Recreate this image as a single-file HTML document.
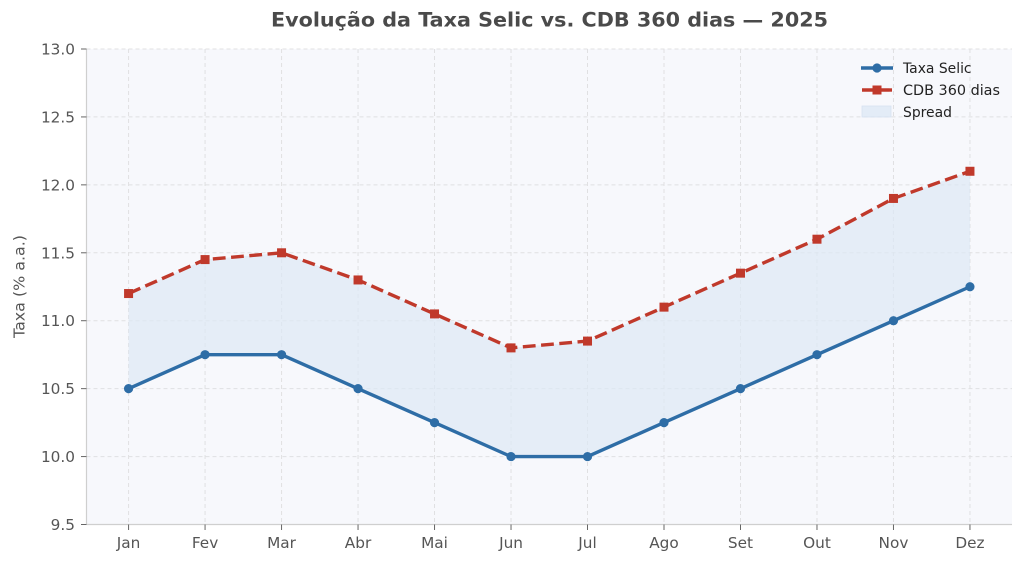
<!DOCTYPE html>
<html><head><meta charset="utf-8"><style>
html,body{margin:0;padding:0;background:#fff;}
svg{display:block;font-family:"DejaVu Sans","Liberation Sans",sans-serif;}
</style></head><body>
<svg width="1024" height="563" viewBox="0 0 1024 563" xmlns="http://www.w3.org/2000/svg">
<rect width="1024" height="563" fill="#fff"/>
<text x="549.5" y="26.5" text-anchor="middle" font-size="19.4" font-weight="bold" fill="#4a4a4a" textLength="557" lengthAdjust="spacingAndGlyphs">Evolução da Taxa Selic vs. CDB 360 dias — 2025</text>
<rect x="86.5" y="49" width="925.5" height="475.5" fill="#f7f8fc"/>
<g stroke="#e0e0e2" stroke-width="1" stroke-dasharray="4,3" fill="none">
<line x1="86.5" x2="1012" y1="49" y2="49"/>
<line x1="86.5" x2="1012" y1="116.93" y2="116.93"/>
<line x1="86.5" x2="1012" y1="184.86" y2="184.86"/>
<line x1="86.5" x2="1012" y1="252.79" y2="252.79"/>
<line x1="86.5" x2="1012" y1="320.71" y2="320.71"/>
<line x1="86.5" x2="1012" y1="388.64" y2="388.64"/>
<line x1="86.5" x2="1012" y1="456.57" y2="456.57"/>
<line y1="49" y2="524.5" x1="128.57" x2="128.57"/>
<line y1="49" y2="524.5" x1="205.06" x2="205.06"/>
<line y1="49" y2="524.5" x1="281.55" x2="281.55"/>
<line y1="49" y2="524.5" x1="358.04" x2="358.04"/>
<line y1="49" y2="524.5" x1="434.53" x2="434.53"/>
<line y1="49" y2="524.5" x1="511.02" x2="511.02"/>
<line y1="49" y2="524.5" x1="587.51" x2="587.51"/>
<line y1="49" y2="524.5" x1="664.0" x2="664.0"/>
<line y1="49" y2="524.5" x1="740.49" x2="740.49"/>
<line y1="49" y2="524.5" x1="816.98" x2="816.98"/>
<line y1="49" y2="524.5" x1="893.47" x2="893.47"/>
<line y1="49" y2="524.5" x1="969.96" x2="969.96"/>
</g>
<polygon fill="#dde8f5" fill-opacity="0.7" points="128.57,293.54 205.06,259.58 281.55,252.79 358.04,279.96 434.53,313.92 511.02,347.89 587.51,341.09 664.0,307.13 740.49,273.16 816.98,239.2 893.47,198.44 969.96,171.27 969.96,286.75 893.47,320.71 816.98,354.68 740.49,388.64 664.0,422.61 587.51,456.57 511.02,456.57 434.53,422.61 358.04,388.64 281.55,354.68 205.06,354.68 128.57,388.64"/>
<line x1="86.5" x2="86.5" y1="49" y2="524.5" stroke="#cfcfcf" stroke-width="1.2"/>
<line x1="86.5" x2="1012" y1="524.5" y2="524.5" stroke="#cfcfcf" stroke-width="1.2"/>
<g stroke="#666" stroke-width="1">
<line x1="81" x2="86.5" y1="49" y2="49"/>
<line x1="81" x2="86.5" y1="116.93" y2="116.93"/>
<line x1="81" x2="86.5" y1="184.86" y2="184.86"/>
<line x1="81" x2="86.5" y1="252.79" y2="252.79"/>
<line x1="81" x2="86.5" y1="320.71" y2="320.71"/>
<line x1="81" x2="86.5" y1="388.64" y2="388.64"/>
<line x1="81" x2="86.5" y1="456.57" y2="456.57"/>
<line x1="81" x2="86.5" y1="524.5" y2="524.5"/>
<line y1="524.5" y2="530" x1="128.57" x2="128.57"/>
<line y1="524.5" y2="530" x1="205.06" x2="205.06"/>
<line y1="524.5" y2="530" x1="281.55" x2="281.55"/>
<line y1="524.5" y2="530" x1="358.04" x2="358.04"/>
<line y1="524.5" y2="530" x1="434.53" x2="434.53"/>
<line y1="524.5" y2="530" x1="511.02" x2="511.02"/>
<line y1="524.5" y2="530" x1="587.51" x2="587.51"/>
<line y1="524.5" y2="530" x1="664.0" x2="664.0"/>
<line y1="524.5" y2="530" x1="740.49" x2="740.49"/>
<line y1="524.5" y2="530" x1="816.98" x2="816.98"/>
<line y1="524.5" y2="530" x1="893.47" x2="893.47"/>
<line y1="524.5" y2="530" x1="969.96" x2="969.96"/>
</g>
<g font-size="15.3" fill="#555" text-anchor="end">
<text x="75" y="54.5">13.0</text>
<text x="75" y="122.4">12.5</text>
<text x="75" y="190.4">12.0</text>
<text x="75" y="258.3">11.5</text>
<text x="75" y="326.2">11.0</text>
<text x="75" y="394.1">10.5</text>
<text x="75" y="462.1">10.0</text>
<text x="75" y="530">9.5</text>
</g>
<g font-size="15.3" fill="#555" text-anchor="middle">
<text x="128.57" y="548">Jan</text>
<text x="205.06" y="548">Fev</text>
<text x="281.55" y="548">Mar</text>
<text x="358.04" y="548">Abr</text>
<text x="434.53" y="548">Mai</text>
<text x="511.02" y="548">Jun</text>
<text x="587.51" y="548">Jul</text>
<text x="664.0" y="548">Ago</text>
<text x="740.49" y="548">Set</text>
<text x="816.98" y="548">Out</text>
<text x="893.47" y="548">Nov</text>
<text x="969.96" y="548">Dez</text>
</g>
<text transform="translate(24.5,286.5) rotate(-90)" text-anchor="middle" font-size="14.8" fill="#555" textLength="103" lengthAdjust="spacingAndGlyphs">Taxa (% a.a.)</text>
<polyline fill="none" stroke="#c0392b" stroke-width="3.4" stroke-dasharray="12.8,5.5" stroke-linejoin="round" points="128.57,293.54 205.06,259.58 281.55,252.79 358.04,279.96 434.53,313.92 511.02,347.89 587.51,341.09 664.0,307.13 740.49,273.16 816.98,239.2 893.47,198.44 969.96,171.27"/>
<g fill="#c0392b">
<rect x="124.07" y="289.04" width="9" height="9"/>
<rect x="200.56" y="255.08" width="9" height="9"/>
<rect x="277.05" y="248.29" width="9" height="9"/>
<rect x="353.54" y="275.46" width="9" height="9"/>
<rect x="430.03" y="309.42" width="9" height="9"/>
<rect x="506.52" y="343.39" width="9" height="9"/>
<rect x="583.01" y="336.59" width="9" height="9"/>
<rect x="659.5" y="302.63" width="9" height="9"/>
<rect x="735.99" y="268.66" width="9" height="9"/>
<rect x="812.48" y="234.7" width="9" height="9"/>
<rect x="888.97" y="193.94" width="9" height="9"/>
<rect x="965.46" y="166.77" width="9" height="9"/>
</g>
<polyline fill="none" stroke="#2e6da6" stroke-width="3.4" stroke-linejoin="round" points="128.57,388.64 205.06,354.68 281.55,354.68 358.04,388.64 434.53,422.61 511.02,456.57 587.51,456.57 664.0,422.61 740.49,388.64 816.98,354.68 893.47,320.71 969.96,286.75"/>
<g fill="#2e6da6">
<circle cx="128.57" cy="388.64" r="4.6"/>
<circle cx="205.06" cy="354.68" r="4.6"/>
<circle cx="281.55" cy="354.68" r="4.6"/>
<circle cx="358.04" cy="388.64" r="4.6"/>
<circle cx="434.53" cy="422.61" r="4.6"/>
<circle cx="511.02" cy="456.57" r="4.6"/>
<circle cx="587.51" cy="456.57" r="4.6"/>
<circle cx="664.0" cy="422.61" r="4.6"/>
<circle cx="740.49" cy="388.64" r="4.6"/>
<circle cx="816.98" cy="354.68" r="4.6"/>
<circle cx="893.47" cy="320.71" r="4.6"/>
<circle cx="969.96" cy="286.75" r="4.6"/>
</g>
<line x1="861" x2="893" y1="68" y2="68" stroke="#2e6da6" stroke-width="3.4"/>
<circle cx="877" cy="68" r="4.6" fill="#2e6da6"/>
<line x1="862" x2="892" y1="90" y2="90" stroke="#c0392b" stroke-width="3.4" stroke-dasharray="12.8,5.5"/>
<rect x="872.5" y="85.5" width="9" height="9" fill="#c0392b"/>
<rect x="862" y="106" width="29" height="11" fill="#dde8f5" fill-opacity="0.8" stroke="#d6e2f0" stroke-width="0.8"/>
<g font-size="13.9" fill="#222">
<text x="903" y="73">Taxa Selic</text>
<text x="903" y="95" textLength="97" lengthAdjust="spacingAndGlyphs">CDB 360 dias</text>
<text x="903" y="117">Spread</text>
</g>
</svg>
</body></html>
